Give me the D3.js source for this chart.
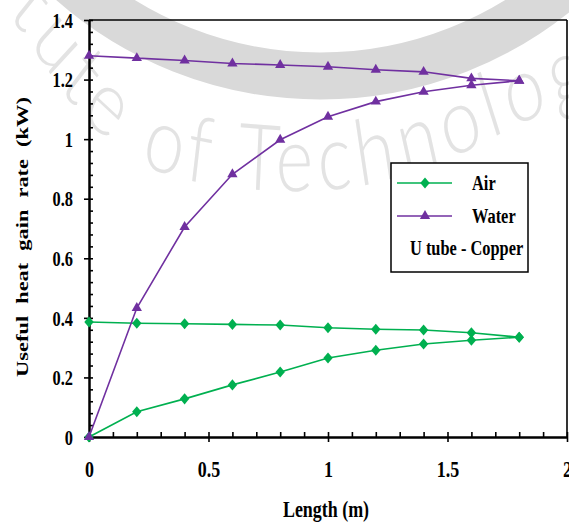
<!DOCTYPE html>
<html>
<head>
<meta charset="utf-8">
<script src="https://cdn.jsdelivr.net/npm/d3@7"></script>
<style>
  html, body { margin: 0; padding: 0; background: #ffffff; }
  svg { display: block; }
</style>
</head>
<body>
<script>
// Tube length stations (m)
const lengths = [0, 0.2, 0.4, 0.6, 0.8, 1.0, 1.2, 1.4, 1.6, 1.8];

// Useful heat gain rate (kW) along each leg of the U tube
const airOutward   = [0, 0.085, 0.128, 0.175, 0.218, 0.265, 0.291, 0.312, 0.325, 0.335];
const airReturn    = [0.386, 0.382, 0.380, 0.378, 0.376, 0.367, 0.362, 0.359, 0.350, 0.335];
const waterOutward = [0, 0.433, 0.705, 0.882, 0.998, 1.075, 1.126, 1.159, 1.181, 1.196];
const waterReturn  = [1.280, 1.272, 1.264, 1.254, 1.249, 1.243, 1.233, 1.226, 1.204, 1.196];

// Axis ticks
const xMajorTicks = [0, 0.5, 1, 1.5, 2];
const xMajorLabels = ["0", "0.5", "1", "1.5", "2"];
const yMajorTicks = [0, 0.2, 0.4, 0.6, 0.8, 1.0, 1.2, 1.4];
const yMajorLabels = ["0", "0.2", "0.4", "0.6", "0.8", "1", "1.2", "1.4"];
const xMinorTicks = d3.range(0, 20.5).map(i => i / 10);
const yMinorTicks = d3.range(0, 35.5).map(i => i * 0.04);

// Legend entries
const seriesNames = ["Air", "Water"];
const legendNote = "U tube - Copper";

const W = 569, H = 522;
const serif = "'Liberation Serif', 'Times New Roman', serif";
const green = "#00b050", purple = "#7030a0";
const squeeze = 0.78; // horizontal condensing of the lettering

const svg = d3.select("body").append("svg")
  .attr("width", W).attr("height", H);

// ---- background watermark ----
const wm = svg.append("g").attr("class", "watermark");
wm.append("circle")
  .attr("cx", 320).attr("cy", -300).attr("r", 376)
  .attr("fill", "none").attr("stroke", "#d9d9d9").attr("stroke-width", 47);

// lettering follows a curved baseline, in a horizontally condensed frame
const wg = wm.append("g").attr("transform", `scale(${squeeze},1)`);
const baseline = [[-40, -40], [20, 30], [65, 95], [110, 142], [160, 172], [230, 187],
  [300, 191], [365, 185], [425, 168], [475, 147], [520, 124], [600, 90]];
const arcNode = wg.append("path").attr("id", "wmArc")
  .attr("d", d3.line().x(d => d[0] / squeeze).y(d => d[1]).curve(d3.curveNatural)(baseline))
  .attr("fill", "none").node();
function offsetAtX(sx) {
  const L = arcNode.getTotalLength();
  for (let s = 0; s < L; s += 1) {
    if (arcNode.getPointAtLength(s).x * squeeze >= sx) return s;
  }
  return L;
}
const wmText = (str, offset, anchor) => wg.append("text")
  .attr("font-family", "Lato, 'Open Sans', sans-serif")
  .attr("font-weight", 300)
  .attr("font-size", 92)
  .attr("letter-spacing", 8)
  .attr("fill", "#e3e3e3")
  .attr("text-anchor", anchor)
  .append("textPath")
  .attr("href", "#wmArc")
  .attr("startOffset", offset)
  .text(str);
wmText("Institute", offsetAtX(115), "end");
wmText("of Technology", offsetAtX(140), "start");

// ---- scales ----
const x = d3.scaleLinear().domain([0, 2]).range([89, 567]);
const y = d3.scaleLinear().domain([0, 1.4]).range([437, 20]);

// ---- frame (top and right) ----
svg.append("line")
  .attr("x1", x(0)).attr("x2", x(2)).attr("y1", y(1.4)).attr("y2", y(1.4))
  .attr("stroke", "#000").attr("stroke-width", 1.6);
svg.append("line")
  .attr("x1", x(2)).attr("x2", x(2)).attr("y1", y(1.4)).attr("y2", y(0))
  .attr("stroke", "#000").attr("stroke-width", 1.6);

// ---- axes ----
function styleAxis(g) {
  g.select(".domain").attr("stroke", "#000").attr("stroke-width", 2);
  g.selectAll(".tick line").attr("stroke", "#000").attr("stroke-width", 1.6);
}
function tickMarksOnly(g) {
  styleAxis(g);
  g.selectAll(".tick text").remove();
}

// x minor ticks and the inner half of the major ticks
svg.append("g").attr("transform", `translate(0,${y(0)})`)
  .call(d3.axisBottom(x).tickValues(xMinorTicks).tickSizeInner(-5).tickSizeOuter(0))
  .call(tickMarksOnly);
// x major ticks (outside) with labels
const xAxis = svg.append("g").attr("transform", `translate(0,${y(0)})`)
  .call(d3.axisBottom(x).tickValues(xMajorTicks).tickSizeInner(5).tickSizeOuter(0)
    .tickFormat((d, i) => xMajorLabels[i]))
  .call(styleAxis);
xAxis.selectAll(".tick text")
  .attr("font-family", serif).attr("font-weight", "bold").attr("font-size", 23)
  .attr("fill", "#000")
  .attr("dy", null).attr("y", 40)
  .attr("transform", `scale(${squeeze},1)`);

// y minor ticks and the inner half of the major ticks
svg.append("g").attr("transform", `translate(${x(0)},0)`)
  .call(d3.axisLeft(y).tickValues(yMinorTicks).tickSizeInner(-4).tickSizeOuter(0))
  .call(tickMarksOnly);
const yAxis = svg.append("g").attr("transform", `translate(${x(0)},0)`)
  .call(d3.axisLeft(y).tickValues(yMajorTicks).tickSizeInner(5).tickSizeOuter(0)
    .tickFormat((d, i) => yMajorLabels[i]))
  .call(styleAxis);
yAxis.selectAll(".tick text")
  .attr("font-family", serif).attr("font-weight", "bold").attr("font-size", 21)
  .attr("fill", "#000")
  .attr("x", -16 / squeeze).attr("dy", "0.34em")
  .attr("transform", `scale(${squeeze},1)`);

// axis titles
svg.append("text")
  .attr("transform", `translate(${(x(0) + x(2)) / 2 - 2},517) scale(${squeeze},1)`)
  .attr("text-anchor", "middle")
  .attr("font-family", serif).attr("font-weight", "bold").attr("font-size", 23)
  .text("Length (m)");
svg.append("text")
  .attr("transform", `translate(28,237) rotate(-90) scale(${1 / squeeze},1)`)
  .attr("text-anchor", "middle")
  .attr("font-family", serif).attr("font-weight", "bold").attr("font-size", 17.5)
  .attr("word-spacing", 5)
  .text("Useful heat gain rate (kW)");

// ---- marker shapes ----
const tallDiamond = {
  draw(ctx, size) {
    const h = Math.sqrt(size) * 0.62, w = h * 0.85;
    ctx.moveTo(0, -h); ctx.lineTo(w, 0); ctx.lineTo(0, h); ctx.lineTo(-w, 0); ctx.closePath();
  }
};
const diamondPath = d3.symbol().type(tallDiamond).size(80)();
const trianglePath = d3.symbol().type(d3.symbolTriangle).size(46)();

const line = d3.line().x(d => x(d[0])).y(d => y(d[1]));

function drawSeries(values, color, shape) {
  const pts = lengths.map((l, i) => [l, values[i]]);
  svg.append("path").datum(pts)
    .attr("d", line).attr("fill", "none")
    .attr("stroke", color).attr("stroke-width", 1.6);
  svg.append("g").selectAll("path").data(pts).join("path")
    .attr("d", shape)
    .attr("transform", d => `translate(${x(d[0])},${y(d[1])})`)
    .attr("fill", color);
}

drawSeries(airReturn, green, diamondPath);
drawSeries(airOutward, green, diamondPath);
drawSeries(waterReturn, purple, trianglePath);
drawSeries(waterOutward, purple, trianglePath);

// ---- legend ----
const lg = svg.append("g");
lg.append("rect")
  .attr("x", 391).attr("y", 163).attr("width", 137).attr("height", 109)
  .attr("fill", "#fff").attr("stroke", "#000").attr("stroke-width", 1.5);
const legendRows = [
  { name: seriesNames[0], color: green, shape: diamondPath, cy: 183 },
  { name: seriesNames[1], color: purple, shape: trianglePath, cy: 216 }
];
legendRows.forEach(r => {
  lg.append("line")
    .attr("x1", 397).attr("x2", 452).attr("y1", r.cy).attr("y2", r.cy)
    .attr("stroke", r.color).attr("stroke-width", 1.6);
  lg.append("path").attr("d", r.shape)
    .attr("transform", `translate(425,${r.cy})`).attr("fill", r.color);
  lg.append("text")
    .attr("transform", `translate(472,${r.cy + 7}) scale(${squeeze},1)`)
    .attr("font-family", serif).attr("font-weight", "bold").attr("font-size", 21)
    .text(r.name);
});
lg.append("text")
  .attr("transform", `translate(410,255) scale(${squeeze},1)`)
  .attr("font-family", serif).attr("font-weight", "bold").attr("font-size", 21)
  .text(legendNote);
</script>
</body>
</html>
